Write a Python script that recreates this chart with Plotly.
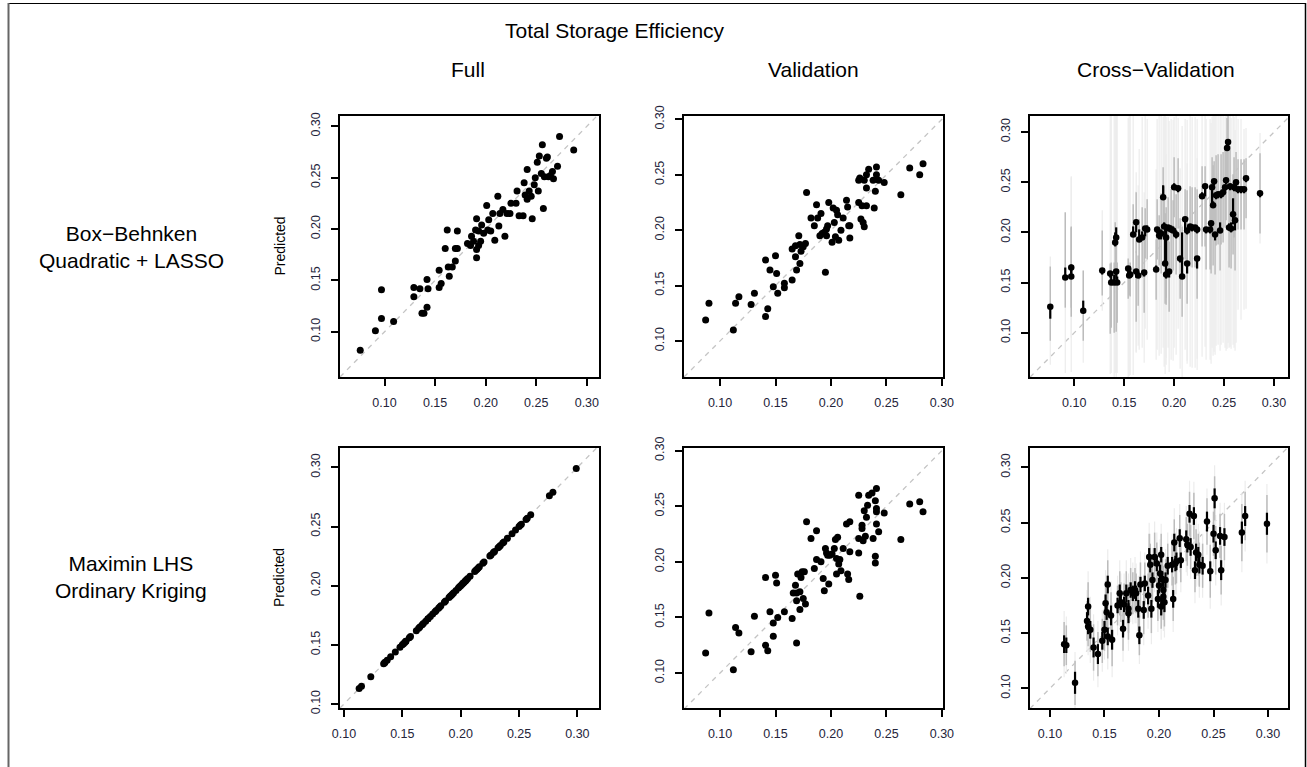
import plotly.graph_objects as go

# ---------------- data ----------------
# Box-Behnken, Quadratic + LASSO : Full fit
bb_full_actual = [
    0.076, 0.091, 0.097, 0.097, 0.109, 0.129, 0.129, 0.135, 0.137, 0.139,
    0.142, 0.142, 0.143, 0.154, 0.156, 0.154, 0.160, 0.162, 0.163, 0.164,
    0.167, 0.170, 0.170, 0.172, 0.172, 0.182, 0.185, 0.186, 0.188, 0.190,
    0.191, 0.191, 0.191, 0.193, 0.193, 0.195, 0.196, 0.198, 0.201, 0.202,
    0.203, 0.205, 0.207, 0.209, 0.212, 0.213, 0.214, 0.217, 0.219, 0.221,
    0.224, 0.225, 0.230, 0.231, 0.233, 0.237, 0.238, 0.239, 0.241, 0.241,
    0.243, 0.245, 0.246, 0.248, 0.249, 0.251, 0.252, 0.253, 0.255, 0.256,
    0.257, 0.258, 0.260, 0.261, 0.262, 0.264, 0.266, 0.267, 0.271, 0.273,
    0.287]
bb_full_pred = [
    0.082, 0.101, 0.141, 0.113, 0.110, 0.143, 0.134, 0.142, 0.118, 0.118,
    0.151, 0.124, 0.142, 0.160, 0.147, 0.143, 0.181, 0.199, 0.163, 0.154,
    0.163, 0.169, 0.181, 0.181, 0.198, 0.186, 0.184, 0.193, 0.188, 0.199,
    0.210, 0.180, 0.172, 0.198, 0.184, 0.188, 0.204, 0.196, 0.223, 0.199,
    0.209, 0.198, 0.215, 0.189, 0.232, 0.203, 0.215, 0.219, 0.193, 0.215,
    0.215, 0.225, 0.225, 0.237, 0.213, 0.213, 0.245, 0.233, 0.258, 0.229,
    0.237, 0.232, 0.210, 0.243, 0.250, 0.265, 0.237, 0.271, 0.254, 0.282,
    0.220, 0.251, 0.269, 0.270, 0.251, 0.252, 0.256, 0.249, 0.261, 0.290,
    0.277]

# Box-Behnken : Validation
bb_val_actual = [
    0.087, 0.090, 0.112, 0.114, 0.117, 0.128, 0.131, 0.141, 0.141, 0.143,
    0.145, 0.148, 0.150, 0.151, 0.152, 0.158, 0.158, 0.165, 0.165, 0.168,
    0.168, 0.169, 0.171, 0.172, 0.172, 0.173, 0.175, 0.177, 0.178, 0.182,
    0.185, 0.187, 0.188, 0.190, 0.191, 0.192, 0.194, 0.195, 0.196, 0.196,
    0.197, 0.198, 0.201, 0.202, 0.203, 0.204, 0.205, 0.206, 0.207, 0.209,
    0.211, 0.214, 0.215, 0.216, 0.217, 0.217, 0.225, 0.225, 0.226, 0.227,
    0.228, 0.229, 0.230, 0.230, 0.232, 0.232, 0.232, 0.234, 0.238, 0.239,
    0.240, 0.241, 0.241, 0.243, 0.248, 0.263, 0.271, 0.280, 0.283]
bb_val_pred = [
    0.119, 0.134, 0.110, 0.134, 0.140, 0.133, 0.143, 0.173, 0.122, 0.129,
    0.164, 0.149, 0.177, 0.161, 0.143, 0.152, 0.148, 0.155, 0.183, 0.186,
    0.176, 0.164, 0.195, 0.187, 0.170, 0.181, 0.185, 0.188, 0.234, 0.211,
    0.204, 0.223, 0.211, 0.195, 0.215, 0.197, 0.198, 0.162, 0.201, 0.195,
    0.204, 0.225, 0.189, 0.220, 0.207, 0.194, 0.218, 0.214, 0.191, 0.200,
    0.211, 0.227, 0.221, 0.204, 0.193, 0.204, 0.245, 0.225, 0.247, 0.210,
    0.222, 0.207, 0.245, 0.203, 0.250, 0.238, 0.222, 0.255, 0.245, 0.220,
    0.235, 0.257, 0.250, 0.245, 0.243, 0.232, 0.256, 0.250, 0.260]

# Box-Behnken : Cross-validation (point + three nested intervals)
bb_cv_actual = [
    0.076, 0.091, 0.097, 0.097, 0.109, 0.128, 0.136, 0.137, 0.140, 0.141,
    0.142, 0.142, 0.143, 0.154, 0.155, 0.156, 0.159, 0.162, 0.162, 0.164,
    0.165, 0.168, 0.170, 0.171, 0.173, 0.182, 0.183, 0.185, 0.187, 0.189,
    0.190, 0.191, 0.192, 0.192, 0.194, 0.195, 0.197, 0.199, 0.200, 0.202,
    0.204, 0.206, 0.208, 0.211, 0.213, 0.213, 0.216, 0.218, 0.221, 0.223,
    0.223, 0.228, 0.231, 0.232, 0.236, 0.237, 0.238, 0.239, 0.240, 0.241,
    0.242, 0.244, 0.246, 0.247, 0.249, 0.251, 0.252, 0.253, 0.254, 0.255,
    0.256, 0.257, 0.259, 0.260, 0.261, 0.262, 0.264, 0.267, 0.270, 0.272,
    0.286]
bb_cv_pred = [
    0.126, 0.155, 0.156, 0.165, 0.122, 0.162, 0.159, 0.150, 0.150, 0.190,
    0.195, 0.161, 0.150, 0.164, 0.157, 0.158, 0.198, 0.210, 0.161, 0.157,
    0.193, 0.195, 0.160, 0.204, 0.203, 0.163, 0.203, 0.197, 0.199, 0.235,
    0.206, 0.169, 0.195, 0.158, 0.205, 0.161, 0.203, 0.202, 0.245, 0.198,
    0.244, 0.174, 0.156, 0.213, 0.169, 0.202, 0.206, 0.205, 0.205, 0.174,
    0.203, 0.236, 0.246, 0.203, 0.203, 0.209, 0.245, 0.227, 0.251, 0.198,
    0.237, 0.238, 0.202, 0.238, 0.240, 0.245, 0.252, 0.284, 0.290, 0.205,
    0.246, 0.204, 0.218, 0.245, 0.212, 0.250, 0.243, 0.243, 0.243, 0.254,
    0.239]
bb_cv_inner_dn = [
    0.012, 0.000, 0.002, 0.006, 0.000, 0.004, 0.004, 0.002, 0.002, 0.004,
    0.002, 0.008, 0.002, 0.006, 0.002, 0.002, 0.002, 0.010, 0.006, 0.002,
    0.002, 0.002, 0.004, 0.008, 0.002, 0.002, 0.004, 0.004, 0.006, 0.002,
    0.002, 0.002, 0.040, 0.004, 0.004, 0.006, 0.002, 0.002, 0.002, 0.004,
    0.004, 0.004, 0.002, 0.010, 0.010, 0.004, 0.004, 0.004, 0.004, 0.010,
    0.004, 0.002, 0.010, 0.004, 0.004, 0.004, 0.016, 0.002, 0.004, 0.006,
    0.004, 0.004, 0.002, 0.004, 0.004, 0.004, 0.004, 0.002, 0.004, 0.002,
    0.004, 0.004, 0.010, 0.004, 0.010, 0.004, 0.004, 0.004, 0.004, 0.004,
    0.004]
bb_cv_inner_up = [
    0.002, 0.010, 0.012, 0.002, 0.010, 0.002, 0.002, 0.008, 0.008, 0.010,
    0.010, 0.002, 0.006, 0.002, 0.008, 0.006, 0.008, 0.002, 0.002, 0.004,
    0.010, 0.006, 0.002, 0.002, 0.004, 0.004, 0.002, 0.006, 0.004, 0.012,
    0.004, 0.036, 0.010, 0.002, 0.002, 0.002, 0.004, 0.004, 0.004, 0.004,
    0.002, 0.002, 0.044, 0.002, 0.002, 0.002, 0.002, 0.002, 0.002, 0.002,
    0.002, 0.004, 0.002, 0.002, 0.002, 0.002, 0.002, 0.004, 0.002, 0.002,
    0.002, 0.002, 0.008, 0.002, 0.002, 0.002, 0.002, 0.004, 0.002, 0.004,
    0.002, 0.006, 0.016, 0.002, 0.002, 0.002, 0.002, 0.002, 0.002, 0.002,
    0.002]
bb_cv_mid_dn = [
    0.034, 0.030, 0.040, 0.040, 0.030, 0.025, 0.060, 0.045, 0.050, 0.040,
    0.030, 0.060, 0.040, 0.030, 0.020, 0.022, 0.040, 0.030, 0.050, 0.030,
    0.040, 0.040, 0.040, 0.030, 0.030, 0.030, 0.030, 0.030, 0.040, 0.040,
    0.040, 0.040, 0.060, 0.030, 0.040, 0.040, 0.040, 0.040, 0.030, 0.040,
    0.040, 0.040, 0.040, 0.040, 0.040, 0.040, 0.040, 0.040, 0.040, 0.040,
    0.040, 0.050, 0.060, 0.040, 0.040, 0.050, 0.050, 0.060, 0.050, 0.040,
    0.050, 0.050, 0.040, 0.050, 0.050, 0.040, 0.040, 0.040, 0.040, 0.040,
    0.040, 0.040, 0.040, 0.050, 0.050, 0.040, 0.040, 0.040, 0.040, 0.040,
    0.040]
bb_cv_mid_up = [
    0.040, 0.065, 0.050, 0.040, 0.040, 0.040, 0.010, 0.020, 0.020, 0.020,
    0.010, 0.010, 0.020, 0.010, 0.010, 0.012, 0.030, 0.030, 0.020, 0.020,
    0.020, 0.030, 0.040, 0.020, 0.030, 0.030, 0.030, 0.020, 0.040, 0.030,
    0.040, 0.050, 0.030, 0.030, 0.030, 0.030, 0.040, 0.030, 0.030, 0.040,
    0.030, 0.040, 0.050, 0.030, 0.040, 0.040, 0.040, 0.040, 0.040, 0.030,
    0.040, 0.030, 0.020, 0.040, 0.040, 0.040, 0.030, 0.040, 0.020, 0.040,
    0.040, 0.040, 0.040, 0.040, 0.040, 0.040, 0.030, 0.030, 0.030, 0.040,
    0.040, 0.040, 0.040, 0.030, 0.040, 0.030, 0.030, 0.030, 0.030, 0.020,
    0.040]
bb_cv_outer_dn = [
    0.058, 0.095, 0.095, 0.070, 0.052, 0.040, 0.100, 0.090, 0.095, 0.130,
    0.140, 0.100, 0.090, 0.110, 0.100, 0.100, 0.140, 0.130, 0.080, 0.070,
    0.110, 0.110, 0.090, 0.100, 0.110, 0.090, 0.120, 0.120, 0.120, 0.150,
    0.140, 0.110, 0.120, 0.090, 0.120, 0.100, 0.130, 0.130, 0.160, 0.120,
    0.140, 0.110, 0.100, 0.130, 0.100, 0.130, 0.140, 0.140, 0.140, 0.100,
    0.140, 0.160, 0.160, 0.130, 0.130, 0.140, 0.160, 0.150, 0.170, 0.120,
    0.150, 0.150, 0.120, 0.150, 0.150, 0.160, 0.170, 0.200, 0.200, 0.120,
    0.160, 0.120, 0.130, 0.160, 0.130, 0.160, 0.120, 0.130, 0.120, 0.130,
    0.050]
bb_cv_outer_up = [
    0.050, 0.065, 0.100, 0.090, 0.040, 0.060, 0.160, 0.170, 0.170, 0.130,
    0.120, 0.160, 0.170, 0.150, 0.160, 0.160, 0.120, 0.050, 0.080, 0.090,
    0.090, 0.120, 0.080, 0.120, 0.110, 0.100, 0.110, 0.120, 0.120, 0.080,
    0.110, 0.150, 0.120, 0.120, 0.110, 0.150, 0.110, 0.110, 0.070, 0.120,
    0.070, 0.090, 0.150, 0.100, 0.100, 0.110, 0.110, 0.110, 0.110, 0.100,
    0.110, 0.080, 0.070, 0.110, 0.110, 0.100, 0.070, 0.090, 0.070, 0.120,
    0.080, 0.080, 0.120, 0.080, 0.080, 0.070, 0.070, 0.040, 0.030, 0.110,
    0.070, 0.110, 0.100, 0.070, 0.090, 0.070, 0.070, 0.070, 0.060, 0.050,
    0.060]

# Maximin LHS, Ordinary Kriging : Cross-validation
lhs_cv_actual = [
    0.113, 0.115, 0.123, 0.134, 0.135, 0.135, 0.137, 0.140, 0.144, 0.148,
    0.150, 0.151, 0.152, 0.153, 0.153, 0.156, 0.157, 0.162, 0.164, 0.165,
    0.167, 0.168, 0.170, 0.172, 0.172, 0.174, 0.176, 0.178, 0.179, 0.181,
    0.182, 0.183, 0.186, 0.187, 0.190, 0.191, 0.192, 0.193, 0.194, 0.196,
    0.198, 0.199, 0.200, 0.201, 0.202, 0.202, 0.203, 0.204, 0.204, 0.205,
    0.206, 0.208, 0.212, 0.213, 0.214, 0.215, 0.216, 0.219, 0.220, 0.225,
    0.226, 0.228, 0.229, 0.232, 0.233, 0.234, 0.236, 0.237, 0.240, 0.244,
    0.247, 0.250, 0.251, 0.252, 0.256, 0.257, 0.260, 0.276, 0.279, 0.299]
lhs_cv_pred = [
    0.140, 0.139, 0.105, 0.161, 0.174, 0.156, 0.153, 0.137, 0.131, 0.143,
    0.153, 0.177, 0.169, 0.194, 0.147, 0.166, 0.144, 0.175, 0.186, 0.178,
    0.154, 0.176, 0.186, 0.172, 0.168, 0.189, 0.186, 0.189, 0.186, 0.172,
    0.148, 0.194, 0.171, 0.195, 0.184, 0.219, 0.212, 0.172, 0.198, 0.219,
    0.213, 0.181, 0.193, 0.204, 0.221, 0.174, 0.199, 0.189, 0.183, 0.178,
    0.198, 0.211, 0.212, 0.181, 0.232, 0.213, 0.215, 0.236, 0.216, 0.235,
    0.230, 0.258, 0.228, 0.256, 0.207, 0.223, 0.221, 0.212, 0.211, 0.251,
    0.206, 0.240, 0.272, 0.225, 0.238, 0.207, 0.237, 0.241, 0.256, 0.249]
lhs_cv_inner = [
    0.008, 0.007, 0.010, 0.008, 0.008, 0.007, 0.008, 0.009, 0.009, 0.008,
    0.008, 0.008, 0.007, 0.008, 0.008, 0.009, 0.009, 0.007, 0.008, 0.007,
    0.008, 0.007, 0.008, 0.008, 0.009, 0.007, 0.007, 0.008, 0.007, 0.008,
    0.008, 0.007, 0.008, 0.007, 0.008, 0.008, 0.007, 0.008, 0.007, 0.008,
    0.007, 0.008, 0.007, 0.008, 0.007, 0.008, 0.007, 0.008, 0.008, 0.009,
    0.007, 0.008, 0.007, 0.008, 0.008, 0.007, 0.008, 0.008, 0.007, 0.008,
    0.007, 0.008, 0.008, 0.008, 0.008, 0.008, 0.007, 0.008, 0.008, 0.009,
    0.009, 0.008, 0.009, 0.008, 0.008, 0.009, 0.008, 0.010, 0.009, 0.010]
lhs_cv_mid = [
    0.020, 0.018, 0.020, 0.018, 0.022, 0.018, 0.020, 0.021, 0.020, 0.020,
    0.019, 0.020, 0.018, 0.022, 0.020, 0.021, 0.024, 0.018, 0.020, 0.018,
    0.020, 0.019, 0.020, 0.022, 0.024, 0.020, 0.019, 0.020, 0.018, 0.020,
    0.018, 0.020, 0.022, 0.019, 0.020, 0.021, 0.019, 0.022, 0.020, 0.022,
    0.019, 0.020, 0.020, 0.021, 0.019, 0.020, 0.020, 0.022, 0.021, 0.022,
    0.019, 0.020, 0.019, 0.020, 0.021, 0.019, 0.020, 0.021, 0.020, 0.020,
    0.019, 0.020, 0.020, 0.021, 0.020, 0.021, 0.019, 0.020, 0.020, 0.021,
    0.024, 0.020, 0.020, 0.022, 0.020, 0.022, 0.021, 0.026, 0.022, 0.026]
lhs_cv_outer = [
    0.030, 0.026, 0.028, 0.028, 0.032, 0.026, 0.030, 0.030, 0.030, 0.028,
    0.027, 0.030, 0.026, 0.032, 0.030, 0.031, 0.034, 0.027, 0.030, 0.026,
    0.030, 0.028, 0.030, 0.032, 0.034, 0.029, 0.028, 0.030, 0.027, 0.030,
    0.026, 0.030, 0.032, 0.028, 0.030, 0.031, 0.028, 0.032, 0.029, 0.032,
    0.028, 0.030, 0.030, 0.031, 0.028, 0.030, 0.029, 0.032, 0.031, 0.032,
    0.028, 0.030, 0.028, 0.030, 0.031, 0.028, 0.030, 0.031, 0.029, 0.030,
    0.028, 0.030, 0.029, 0.031, 0.030, 0.031, 0.028, 0.030, 0.029, 0.030,
    0.034, 0.030, 0.030, 0.032, 0.030, 0.032, 0.031, 0.036, 0.032, 0.036]

# Maximin LHS : Full fit (kriging interpolates the design points)
lhs_full_actual = lhs_cv_actual
lhs_full_pred = [
    0.113, 0.115, 0.123, 0.134, 0.135, 0.135, 0.137, 0.140, 0.144, 0.148,
    0.150, 0.151, 0.152, 0.153, 0.153, 0.156, 0.157, 0.162, 0.164, 0.165,
    0.167, 0.168, 0.170, 0.172, 0.172, 0.174, 0.176, 0.178, 0.179, 0.181,
    0.182, 0.183, 0.186, 0.187, 0.190, 0.191, 0.192, 0.193, 0.194, 0.196,
    0.198, 0.199, 0.200, 0.201, 0.202, 0.202, 0.203, 0.204, 0.204, 0.205,
    0.206, 0.208, 0.212, 0.213, 0.214, 0.215, 0.216, 0.219, 0.220, 0.225,
    0.226, 0.228, 0.229, 0.232, 0.233, 0.234, 0.236, 0.237, 0.240, 0.244,
    0.247, 0.250, 0.251, 0.252, 0.256, 0.257, 0.260, 0.276, 0.279, 0.299]

# Maximin LHS : Validation
lhs_val_actual = [
    0.087, 0.090, 0.112, 0.114, 0.117, 0.128, 0.131, 0.141, 0.141, 0.143,
    0.145, 0.148, 0.148, 0.150, 0.151, 0.152, 0.158, 0.165, 0.169, 0.166,
    0.168, 0.169, 0.169, 0.170, 0.172, 0.172, 0.173, 0.174, 0.175, 0.176,
    0.177, 0.178, 0.182, 0.185, 0.187, 0.187, 0.191, 0.193, 0.194, 0.195,
    0.196, 0.197, 0.198, 0.199, 0.201, 0.203, 0.204, 0.205, 0.205, 0.206,
    0.207, 0.208, 0.209, 0.211, 0.214, 0.215, 0.216, 0.217, 0.217, 0.225,
    0.225, 0.225, 0.226, 0.228, 0.228, 0.229, 0.230, 0.231, 0.232, 0.233,
    0.234, 0.237, 0.238, 0.240, 0.240, 0.240, 0.241, 0.241, 0.241, 0.241,
    0.243, 0.248, 0.263, 0.271, 0.280, 0.283]
lhs_val_pred = [
    0.118, 0.154, 0.103, 0.141, 0.136, 0.119, 0.151, 0.186, 0.125, 0.120,
    0.155, 0.145, 0.133, 0.188, 0.181, 0.150, 0.155, 0.149, 0.127, 0.172,
    0.179, 0.172, 0.165, 0.189, 0.173, 0.157, 0.186, 0.191, 0.167, 0.191,
    0.162, 0.236, 0.221, 0.194, 0.228, 0.202, 0.200, 0.185, 0.174, 0.212,
    0.208, 0.206, 0.180, 0.206, 0.207, 0.212, 0.220, 0.203, 0.189, 0.222,
    0.198, 0.202, 0.192, 0.212, 0.234, 0.189, 0.184, 0.236, 0.209, 0.260,
    0.221, 0.208, 0.169, 0.233, 0.230, 0.219, 0.246, 0.223, 0.240, 0.251,
    0.260, 0.262, 0.221, 0.255, 0.205, 0.199, 0.266, 0.248, 0.245, 0.234,
    0.227, 0.244, 0.220, 0.252, 0.254, 0.245]

# tick labels / titles
tick_vals = [0.10, 0.15, 0.20, 0.25, 0.30]
tick_text = ["0.10", "0.15", "0.20", "0.25", "0.30"]
main_title = "Total Storage Efficiency"
col_titles = ["Full", "Validation", "Cross\u2212Validation"]
row_titles = ["Box\u2212Behnken<br>Quadratic + LASSO", "Maximin LHS<br>Ordinary Kriging"]
y_label = "Predicted"

# ---------------- layout geometry (pixels of the 1307x767 page) ----------------
W, H = 1307, 767
FONT = "Liberation Sans, Arial, Helvetica, sans-serif"
TICKCOL = "#24243a"


def fx(p):
    return p / W


def fy(p):
    return 1 - p / H


col_px = [(340, 599), (684, 943), (1030, 1288)]
row_px = [(116, 377), (448, 708)]
axis_ranges = {
    (0, 0): ([0.056, 0.312], [0.056, 0.310]),
    (0, 1): ([0.0675, 0.301], [0.0675, 0.303]),
    (0, 2): ([0.0557, 0.314], [0.0559, 0.316]),
    (1, 0): ([0.0966, 0.3185], [0.0966, 0.3164]),
    (1, 1): ([0.0675, 0.301], [0.0685, 0.3024]),
    (1, 2): ([0.0817, 0.3183], [0.0822, 0.3176]),
}

fig = go.Figure()
layout = dict(
    width=W, height=H, autosize=False,
    margin=dict(l=0, r=0, t=0, b=0),
    paper_bgcolor="white", plot_bgcolor="white",
    showlegend=False,
    font=dict(family=FONT, color="black"),
)

panels = {
    (0, 0): ("pts", bb_full_actual, bb_full_pred),
    (0, 1): ("pts", bb_val_actual, bb_val_pred),
    (0, 2): ("cv", bb_cv_actual, bb_cv_pred,
             (bb_cv_outer_up, bb_cv_outer_dn),
             (bb_cv_mid_up, bb_cv_mid_dn),
             (bb_cv_inner_up, bb_cv_inner_dn)),
    (1, 0): ("pts", lhs_full_actual, lhs_full_pred),
    (1, 1): ("pts", lhs_val_actual, lhs_val_pred),
    (1, 2): ("cv", lhs_cv_actual, lhs_cv_pred,
             (lhs_cv_outer, lhs_cv_outer),
             (lhs_cv_mid, lhs_cv_mid),
             (lhs_cv_inner, lhs_cv_inner)),
}

idx = 0
for r in range(2):
    for c in range(3):
        idx += 1
        sfx = "" if idx == 1 else str(idx)
        xa, ya = "x" + sfx, "y" + sfx
        xr, yr = axis_ranges[(r, c)]
        x0, x1 = col_px[c]
        y0, y1 = row_px[r]
        common = dict(
            showgrid=False, zeroline=False, showline=True, mirror=True,
            linecolor="black", linewidth=2, automargin=False,
            ticks="outside", ticklen=7, tickwidth=1.5, tickcolor="black",
            tickvals=tick_vals, ticktext=tick_text,
            tickfont=dict(family=FONT, size=12.5, color=TICKCOL),
            fixedrange=True,
        )
        layout["xaxis" + sfx] = dict(common, domain=[fx(x0), fx(x1)], range=xr,
                                     anchor=ya, ticklabelstandoff=6)
        layout["yaxis" + sfx] = dict(common, domain=[fy(y1), fy(y0)], range=yr,
                                     anchor=xa, tickangle=-90, ticklabelstandoff=6)

        lo = min(xr[0], yr[0])
        hi = max(xr[1], yr[1])
        fig.add_trace(go.Scatter(
            x=[lo, hi], y=[lo, hi], xaxis=xa, yaxis=ya, mode="lines",
            line=dict(color="#c4c4c4", width=1.3, dash="5px,5px"),
            hoverinfo="skip"))

        p = panels[(r, c)]
        if p[0] == "cv":
            _, act, pred, outer, mid, inner = p
            for (up, dn), col, th in ((outer, "#ececec", 1.2),
                                      (mid, "#bcbcbc", 1.5),
                                      (inner, "#000000", 2.2)):
                fig.add_trace(go.Scatter(
                    x=act, y=pred, xaxis=xa, yaxis=ya, mode="markers",
                    marker=dict(size=1, color="rgba(0,0,0,0)"),
                    error_y=dict(type="data", symmetric=False, array=up,
                                 arrayminus=dn, color=col, thickness=th, width=0),
                    hoverinfo="skip"))
            fig.add_trace(go.Scatter(
                x=act, y=pred, xaxis=xa, yaxis=ya, mode="markers",
                marker=dict(size=6.5, color="black", line=dict(width=0))))
        else:
            _, act, pred = p
            fig.add_trace(go.Scatter(
                x=act, y=pred, xaxis=xa, yaxis=ya, mode="markers",
                marker=dict(size=7, color="black", line=dict(width=0))))

annotations = [
    dict(text=main_title, x=fx(615), y=fy(30), xref="paper", yref="paper",
         showarrow=False, font=dict(size=21, family=FONT, color="black"),
         xanchor="center", yanchor="middle"),
]
for c, t in enumerate(col_titles):
    cx = [468, 813, 1156][c]
    annotations.append(dict(text=t, x=fx(cx), y=fy(70), xref="paper", yref="paper",
                            showarrow=False, font=dict(size=21, family=FONT, color="black"),
                            xanchor="center", yanchor="middle"))
for r, t in enumerate(row_titles):
    cy = [247, 577][r]
    annotations.append(dict(text=t, x=fx(131), y=fy(cy), xref="paper", yref="paper",
                            showarrow=False, align="center",
                            font=dict(size=21, family=FONT, color="black"),
                            xanchor="center", yanchor="middle"))
    annotations.append(dict(text=y_label, x=fx(279), y=fy((row_px[r][0] + row_px[r][1]) / 2),
                            xref="paper", yref="paper", showarrow=False, textangle=-90,
                            font=dict(size=14, family=FONT, color="black"),
                            xanchor="center", yanchor="middle"))
layout["annotations"] = annotations

layout["shapes"] = [
    dict(type="line", xref="paper", yref="paper", x0=fx(8), x1=fx(1306),
         y0=fy(3.5), y1=fy(3.5), line=dict(color="black", width=1.2)),
    dict(type="line", xref="paper", yref="paper", x0=fx(8.5), x1=fx(8.5),
         y0=fy(3), y1=0, line=dict(color="#666666", width=2)),
    dict(type="line", xref="paper", yref="paper", x0=fx(1305.5), x1=fx(1305.5),
         y0=fy(3), y1=0, line=dict(color="black", width=1.5)),
]

fig.update_layout(**layout)
fig.write_html("out.html")
